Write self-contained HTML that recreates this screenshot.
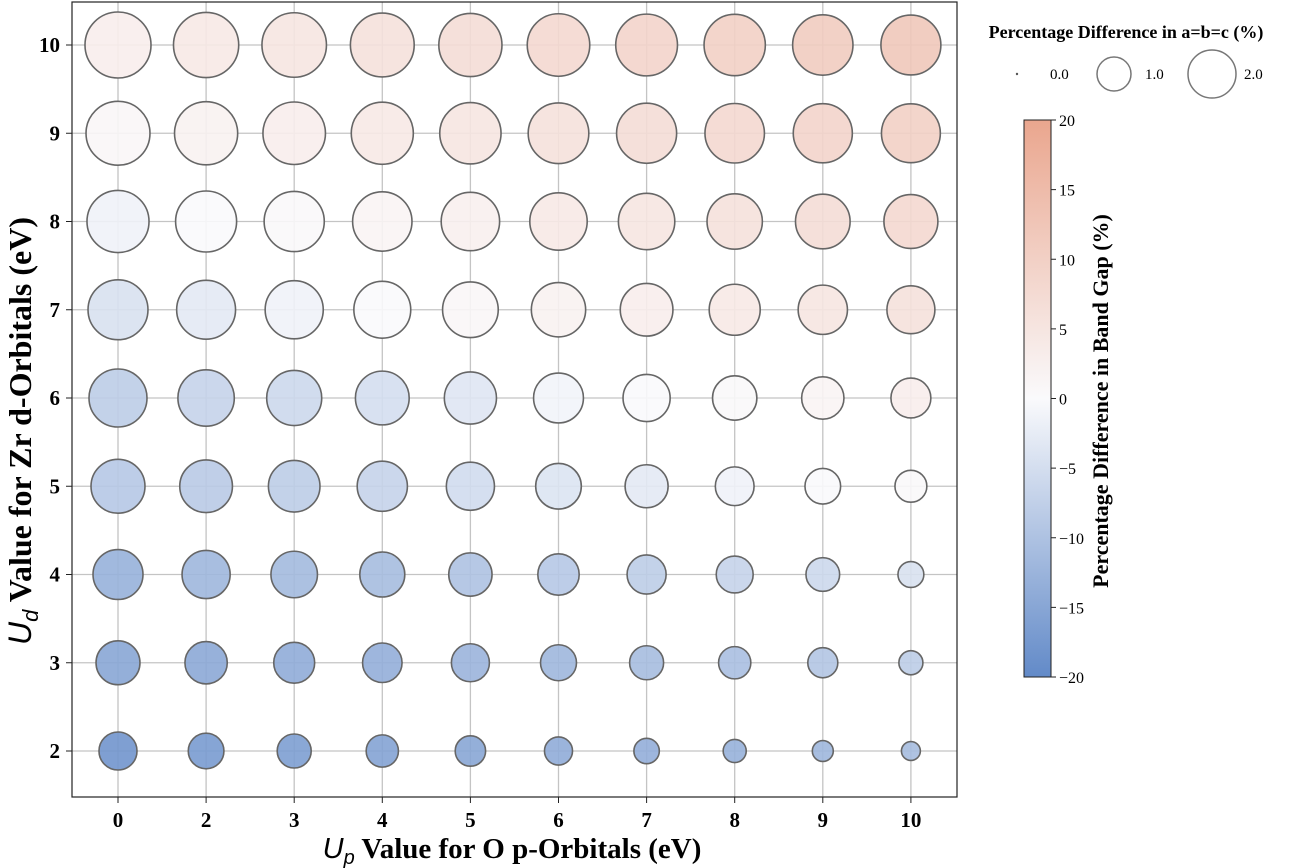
<!DOCTYPE html>
<html><head><meta charset="utf-8"><style>
body{margin:0;background:#fff;}
svg{display:block;font-family:"Liberation Serif",serif;}
</style></head><body>
<svg id="chart" width="1300" height="868">
  <defs>
    <linearGradient id="cbgrad" x1="0" y1="1" x2="0" y2="0">
      <stop offset="0" stop-color="rgb(98,138,200)"/>
      <stop offset="0.5" stop-color="rgb(250,250,252)"/>
      <stop offset="1" stop-color="rgb(234,166,142)"/>
    </linearGradient>
  </defs>
  <g id="grid"></g>
  <g id="bubbles"></g>
  <rect x="72" y="2" width="885" height="795" fill="none" stroke="#222" stroke-width="1.2"/>
  <g id="xticks"></g>
  <g id="yticks"></g>
  <text x="512" y="858" text-anchor="middle" font-size="29" font-weight="bold"><tspan font-style="italic" font-weight="normal" font-family="Liberation Sans, sans-serif">U</tspan><tspan font-style="italic" font-weight="normal" font-family="Liberation Sans, sans-serif" font-size="20" dy="6">p</tspan><tspan dy="-6"> Value for O p-Orbitals (eV)</tspan></text>
  <text transform="translate(31,431) rotate(-90)" text-anchor="middle" font-size="32" font-weight="bold"><tspan font-style="italic" font-weight="normal" font-family="Liberation Sans, sans-serif">U</tspan><tspan font-style="italic" font-weight="normal" font-family="Liberation Sans, sans-serif" font-size="22" dy="7">d</tspan><tspan dy="-7"> Value for Zr d-Orbitals (eV)</tspan></text>
  <g>
    <text x="1126" y="38" text-anchor="middle" font-size="18" font-weight="bold">Percentage Difference in a=b=c (%)</text>
    <circle cx="1017" cy="74" r="1.2" fill="#555"/>
    <text x="1050" y="79" font-size="15">0.0</text>
    <circle cx="1114" cy="74" r="17" fill="none" stroke="#777" stroke-width="1.5"/>
    <text x="1145" y="79" font-size="15">1.0</text>
    <circle cx="1212" cy="74" r="24" fill="none" stroke="#777" stroke-width="1.5"/>
    <text x="1244" y="79" font-size="15">2.0</text>
  </g>
  <g>
    <rect x="1024" y="120" width="27" height="557" fill="url(#cbgrad)" stroke="#222" stroke-width="1"/>
    <g id="cbticks"></g>
    <text transform="translate(1108,401) rotate(-90)" text-anchor="middle" font-size="22" font-weight="bold">Percentage Difference in Band Gap (%)</text>
  </g>
</svg>
<script>
const xCats = ["0","2","3","4","5","6","7","8","9","10"];
const yCats = ["2","3","4","5","6","7","8","9","10"];
const cbTicks = [-20,-15,-10,-5,0,5,10,15,20];
// sizes (percentage diff in a=b=c), rows y=2..10, cols x cats
const sizeVals = [
  [1.25,1.10,1.00,0.90,0.80,0.68,0.56,0.46,0.38,0.31],
  [1.67,1.55,1.45,1.35,1.25,1.12,1.00,0.90,0.78,0.50],
  [2.16,2.00,1.87,1.75,1.62,1.48,1.32,1.18,0.98,0.58],
  [2.52,2.40,2.30,2.18,2.00,1.80,1.60,1.30,1.10,0.88],
  [2.91,2.75,2.62,2.50,2.35,2.15,1.92,1.70,1.55,1.38],
  [3.11,3.00,2.92,2.80,2.68,2.55,2.40,2.25,2.10,1.99],
  [3.33,3.22,3.13,3.05,2.95,2.85,2.75,2.65,2.58,2.52],
  [3.54,3.45,3.38,3.33,3.25,3.18,3.12,3.06,3.02,3.00],
  [3.77,3.68,3.60,3.52,3.45,3.38,3.30,3.25,3.15,3.11]
];
// colours (percentage diff in band gap)
const colorVals = [
  [-18,-17,-16.5,-15.5,-15,-14,-13.5,-13,-12,-11],
  [-15,-14.5,-14,-13.5,-12.5,-12,-11,-10.5,-9.5,-8],
  [-13,-12,-11.5,-11,-10,-9,-8,-7,-6,-4.5],
  [-9,-8.5,-8,-7,-5.5,-4,-3,-1.5,0,0.5],
  [-8,-7,-6,-5,-3.5,-1,0,0.5,1.5,3],
  [-4.5,-3,-1.5,0,1,2,3,4,5,6],
  [-1.5,0,0.5,1.5,2.5,4,5,6,7,8],
  [1,2,3,4,5,6,7,8,9,10],
  [3,4,5,6,7,8,9,10,11,12]
];
const NS="http://www.w3.org/2000/svg";
const X0=118, XS=88.1, Y0=751, YS=88.25;
function xPos(i){return X0+i*XS;}
function yPos(j){return Y0-j*YS;}
function rOf(v){return 17*Math.sqrt(v);}
function colorOf(v){
  const lo=[98,138,200], mid=[250,250,252], hi=[234,166,142];
  let t=Math.max(-1,Math.min(1,v/20)), a,b;
  if(t<0){a=mid;b=lo;t=-t;}else{a=mid;b=hi;}
  return "rgb("+a.map((c,k)=>Math.round(c+(b[k]-c)*t)).join(",")+")";
}
function cbY(v){return 677-(v+20)/40*557;}
function mk(tag,attrs,parent){const e=document.createElementNS(NS,tag);for(const k in attrs)e.setAttribute(k,attrs[k]);parent.appendChild(e);return e;}
const grid=document.getElementById("grid"), xt=document.getElementById("xticks"), yt=document.getElementById("yticks");
xCats.forEach((c,i)=>{
  const l=mk("line",{x1:xPos(i),x2:xPos(i),y1:2,y2:797,stroke:"#c4c4c4","stroke-width":1.3},grid);
  
  
  const t=mk("line",{x1:xPos(i),x2:xPos(i),y1:797,y2:803,stroke:"#222"},xt);
  
  
  const tx=mk("text",{x:xPos(i),y:827,"text-anchor":"middle","font-size":21,"font-weight":"bold"},xt);
  tx.textContent=c;
  
  
});
yCats.forEach((c,j)=>{
  const l=mk("line",{x1:72,x2:957,y1:yPos(j),y2:yPos(j),stroke:"#c4c4c4","stroke-width":1.3},grid);
  
  
  const t=mk("line",{x1:66,x2:72,y1:yPos(j),y2:yPos(j),stroke:"#222"},yt);
  
  
  const tx=mk("text",{x:60,y:yPos(j)+7,"text-anchor":"end","font-size":21,"font-weight":"bold"},yt);
  tx.textContent=c;
  
  
});
const bub=document.getElementById("bubbles");
yCats.forEach((yc,j)=>{
  xCats.forEach((xc,i)=>{
    const c=mk("circle",{cx:xPos(i),cy:yPos(j),r:rOf(sizeVals[j][i]),fill:colorOf(colorVals[j][i]),"fill-opacity":0.9,stroke:"#666","stroke-width":1.6},bub);
    
    
  });
});
const cbt=document.getElementById("cbticks");
cbTicks.forEach(v=>{
  const t=mk("line",{x1:1051,x2:1056,y1:cbY(v),y2:cbY(v),stroke:"#222"},cbt);
  
  
  const tx=mk("text",{x:1059,y:cbY(v)+6,"font-size":16},cbt);
  tx.textContent=v<0?"\u2212"+(-v):String(v);
  
  
});
</script>
</body></html>
